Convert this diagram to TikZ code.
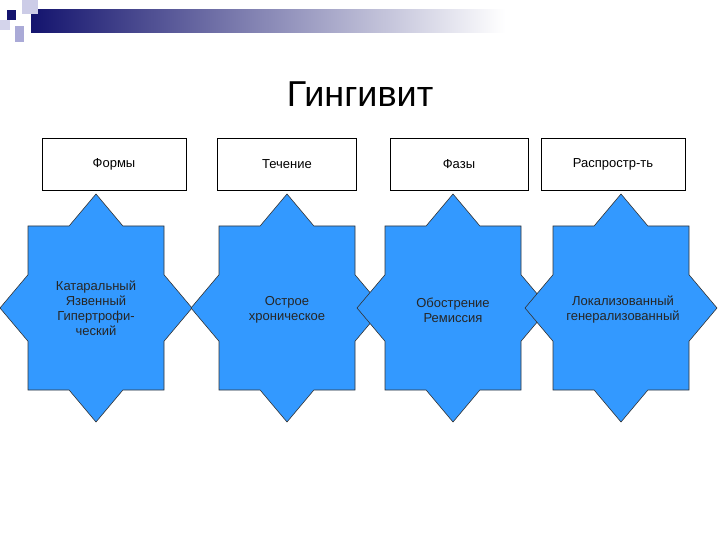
\documentclass[tikz,border=0pt]{standalone}
\usepackage{fontspec}
\setmainfont{Liberation Sans}
\definecolor{starblue}{RGB}{51,153,255}
\definecolor{navy}{RGB}{20,20,110}
\definecolor{lav}{RGB}{170,170,215}
\tikzset{
  hdr/.style={draw=black, fill=white, minimum width=144pt, minimum height=52pt, font=\fontsize{13}{15}\selectfont},
  startxt/.style={align=center, font=\fontsize{13}{15}\selectfont, text=black!85},
  starshape/.style={fill=starblue, draw=black!80, line width=0.6pt}
}
\newcommand{\mystar}[2]{%
  \draw[starshape] (#1,#2)
    ++(0,114) -- ++(26.9,-32) -- ++(41.1,0) -- ++(0,-48.75) -- ++(28,-33.25)
    -- ++(-28,-33.25) -- ++(0,-48.75) -- ++(-41.1,0) -- ++(-26.9,-32)
    -- ++(-26.9,32) -- ++(-41.1,0) -- ++(0,48.75) -- ++(-28,33.25)
    -- ++(28,33.25) -- ++(0,48.75) -- ++(41.1,0) -- cycle;}
\begin{document}
\begin{tikzpicture}[x=1pt,y=-1pt]
\useasboundingbox (0,0) rectangle (720,540);
\fill[white] (0,0) rectangle (720,540);
% top decoration
\shade[left color=navy, right color=white] (31,10) rectangle (505,33);
\fill[lav!60] (22,0) rectangle (38,14);
\fill[lav] (15,26) rectangle (24,42);
\fill[lav!50] (0,20) rectangle (10,30);
\fill[navy] (7,10) rectangle (16,20);
% title
\node[font=\fontsize{36}{40}\selectfont] (title) at (360,94) {Гингивит};
% headers
\node[hdr] (h1) at (114,164) {Формы};
\node[hdr, minimum width=139pt] (h2) at (287,164) {Течение};
\node[hdr, minimum width=138pt] (h3) at (459,164) {Фазы};
\node[hdr] (h4) at (613,164) {Распростр-ть};
% stars
\mystar{96}{308}
\mystar{287}{308}
\mystar{453}{308}
\mystar{621}{308}
\node[startxt] (s1) at (96,308) {Катаральный\\Язвенный\\Гипертрофи-\\ческий};
\node[startxt] (s2) at (287,310) {Острое\\хроническое};
\node[startxt] (s3) at (453,310) {Обострение\\Ремиссия};
\node[startxt] (s4) at (623,310) {Локализованный\\генерализованный};
\end{tikzpicture}
\end{document}
